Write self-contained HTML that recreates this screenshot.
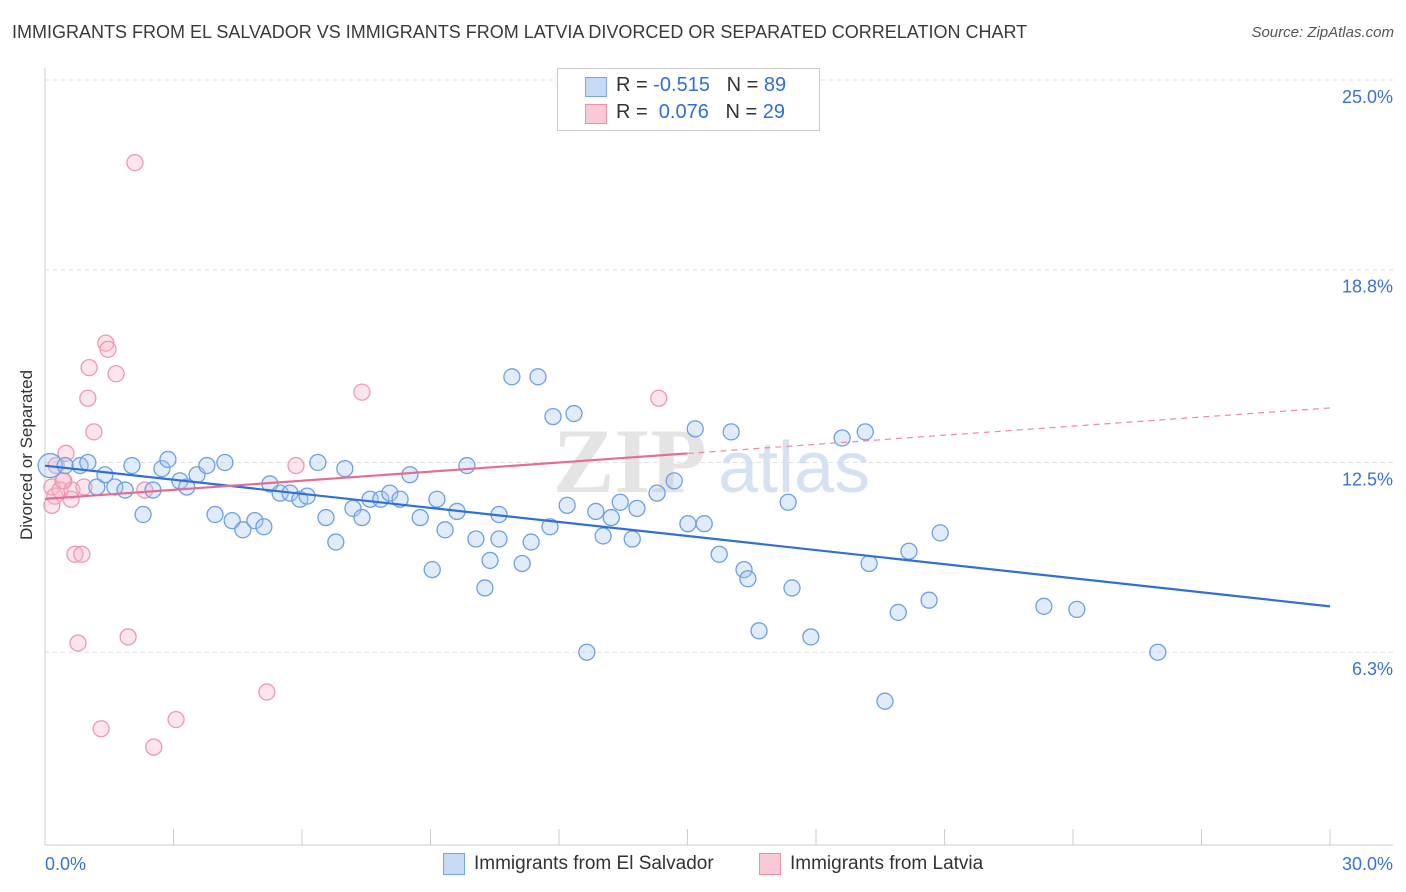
<!DOCTYPE html>
<html><head><meta charset="utf-8">
<style>
body{margin:0;background:#fff;font-family:"Liberation Sans",sans-serif;}
#wrap{position:relative;width:1406px;height:892px;overflow:hidden;}
.t{position:absolute;white-space:nowrap;}
</style></head>
<body>
<div id="wrap">
<div class="t" style="left:12px;top:22px;font-size:18px;color:#3a3a3a;">IMMIGRANTS FROM EL SALVADOR VS IMMIGRANTS FROM LATVIA DIVORCED OR SEPARATED CORRELATION CHART</div>
<div class="t" style="right:12px;top:24px;font-size:15px;color:#555;font-style:italic;">Source: ZipAtlas.com</div>
<div class="t" style="left:-58px;top:445px;font-size:17px;color:#333;transform:rotate(-90deg);">Divorced or Separated</div>
<svg id="svg" width="1406" height="892" style="position:absolute;left:0;top:0"></svg>
<div class="t" style="left:557px;top:68px;width:261px;height:61px;border:1px solid #ccc;background:#fff;font-size:20px;color:#333;">
 <div style="position:absolute;left:27px;top:8px;width:20px;height:18px;background:#c6d9f5;border:1px solid #7aa6e6;"></div>
 <div style="position:absolute;left:58px;top:5px;">R = <span style="color:#2f6fd6">-0.515</span>&nbsp;&nbsp;&nbsp;N = <span style="color:#2f6fd6">89</span></div>
 <div style="position:absolute;left:27px;top:35px;width:20px;height:18px;background:#f9c9d6;border:1px solid #ec91ab;"></div>
 <div style="position:absolute;left:58px;top:32px;">R = &nbsp;<span style="color:#2f6fd6">0.076</span>&nbsp;&nbsp;&nbsp;N = <span style="color:#2f6fd6">29</span></div>
</div>
<div class="t" style="left:443px;top:853px;width:20px;height:20px;background:#c6d9f5;border:1px solid #7aa6e6;"></div>
<div class="t" style="left:474px;top:853px;font-size:19px;color:#333;">Immigrants from El Salvador</div>
<div class="t" style="left:759px;top:853px;width:20px;height:20px;background:#f9c9d6;border:1px solid #ec91ab;"></div>
<div class="t" style="left:790px;top:853px;font-size:19px;color:#333;">Immigrants from Latvia</div>
</div>
<script>
const yTicks=[25.0,18.8,12.5,6.3];
const yTickLabels=["25.0%","18.8%","12.5%","6.3%"];
const xTickLabels=["0.0%","30.0%"];
const blueX=[0.12,0.47,0.82,1.0,1.21,1.4,1.63,1.87,2.03,2.29,2.52,2.73,2.87,3.15,3.31,3.55,3.78,3.97,4.2,4.37,4.62,4.9,5.11,5.25,5.49,5.72,5.95,6.12,6.37,6.56,6.79,7.0,7.19,7.4,7.59,7.84,8.05,8.29,8.52,8.76,9.04,9.15,9.34,9.62,9.85,10.06,10.27,10.39,10.6,10.6,10.9,11.14,11.35,11.51,11.79,11.86,12.19,12.35,12.65,12.86,13.03,13.22,13.43,13.71,13.82,14.29,14.69,15.01,15.18,15.39,15.74,16.02,16.32,16.41,16.67,17.35,17.44,17.88,18.61,19.15,19.24,19.61,19.92,20.17,20.64,20.9,23.32,24.09,25.98];
const blueY=[12.4,12.4,12.4,12.5,11.7,12.1,11.7,11.6,12.4,10.8,11.6,12.3,12.6,11.9,11.7,12.1,12.4,10.8,12.5,10.6,10.3,10.6,10.4,11.8,11.5,11.5,11.3,11.4,12.5,10.7,9.9,12.3,11.0,10.7,11.3,11.3,11.5,11.3,12.1,10.7,9.0,11.3,10.3,10.9,12.4,10.0,8.4,9.3,10.8,10.0,15.3,9.2,9.9,15.3,10.4,14.0,11.1,14.1,6.3,10.9,10.1,10.7,11.2,10.0,11.0,11.5,11.9,10.5,13.6,10.5,9.5,13.5,9.0,8.7,7.0,11.2,8.4,6.8,13.3,13.5,9.2,4.7,7.6,9.6,8.0,10.2,7.8,7.7,6.3];
const pinkX=[2.1,1.42,1.47,1.03,1.66,1.0,7.4,14.33,1.14,0.49,5.86,0.26,0.44,0.16,0.23,0.35,0.63,0.91,0.42,0.61,0.16,2.33,0.7,0.86,0.77,1.94,5.18,1.31,3.06,2.54];
const pinkY=[22.3,16.4,16.2,15.6,15.4,14.6,14.8,14.6,13.5,12.8,12.4,12.4,11.9,11.7,11.4,11.6,11.6,11.7,11.9,11.3,11.1,11.6,9.5,9.5,6.6,6.8,5.0,3.8,4.1,3.2];
const X0=45,X1=1330,Y0=845,PY=30.6;
const sx=v=>X0+(X1-X0)*v/30, sy=v=>Y0-v*PY;
const svg=document.getElementById('svg');const NS='http://www.w3.org/2000/svg';
function mk(tag,at,name){const e=document.createElementNS(NS,tag);for(const k in at)e.setAttribute(k,at[k]);


svg.appendChild(e);return e;}
mk('line',{x1:X0,x2:1393,y1:80,y2:80,stroke:'#ddd','stroke-dasharray':'4,4'},'gridline-top');
yTicks.forEach((v,i)=>{
 mk('line',{x1:X0,x2:1393,y1:sy(v),y2:sy(v),stroke:'#ddd','stroke-dasharray':'4,4'},'gridline');
 const t=mk('text',{x:1393,y:sy(v)+23,'text-anchor':'end','font-size':18,fill:'#3a72d3','font-family':'Liberation Sans'},'y-tick-label');t.textContent=yTickLabels[i];
});
mk('line',{x1:X0,x2:X0,y1:68,y2:Y0,stroke:'#ccc'},'y-axis-line');
mk('line',{x1:X0,x2:1393,y1:Y0,y2:Y0,stroke:'#ccc'},'x-axis-line');
for(let i=0;i<=10;i++){mk('line',{x1:sx(i*3),x2:sx(i*3),y1:829,y2:Y0,stroke:'#ccc'},'x-tick');}
let t=mk('text',{x:45,y:870,'font-size':18,fill:'#3a72d3','font-family':'Liberation Sans'},'x-tick-label-min');t.textContent=xTickLabels[0];
t=mk('text',{x:1393,y:870,'text-anchor':'end','font-size':18,fill:'#3a72d3','font-family':'Liberation Sans'},'x-tick-label-max');t.textContent=xTickLabels[1];
t=mk('text',{x:553,y:492,'font-size':92,fill:'#e4e4e4','font-family':'Liberation Serif','font-weight':'bold'},'watermark-zip');t.textContent='ZIP';
t=mk('text',{x:718,y:492,'font-size':72,fill:'#d6e2f4','font-family':'Liberation Sans'},'watermark-atlas');t.textContent='atlas';
function fit(xs,ys){const n=xs.length;let mx=0,my=0;for(let i=0;i<n;i++){mx+=xs[i];my+=ys[i];}mx/=n;my/=n;let a=0,b=0;for(let i=0;i<n;i++){a+=(xs[i]-mx)*(ys[i]-my);b+=(xs[i]-mx)**2;}const s=a/b;return x=>my+s*(x-mx);}
pinkX.forEach((x,i)=>mk('circle',{cx:sx(x),cy:sy(pinkY[i]),r:8,fill:'rgba(246,180,200,0.35)',stroke:'#ee98b2','stroke-width':1.3},'pink-point'));
blueX.forEach((x,i)=>mk('circle',{cx:sx(x),cy:sy(blueY[i]),r:(i==0?12:8),fill:'rgba(170,200,240,0.35)',stroke:'#6e9fe2','stroke-width':1.3},'blue-point'));
const fb=fit(blueX,blueY),fp=fit(pinkX,pinkY);
mk('line',{x1:sx(0),y1:sy(fb(0)),x2:sx(30),y2:sy(fb(30)),stroke:'#2f6fd6','stroke-width':2.2},'blue-trend-line');
mk('line',{x1:sx(0),y1:sy(fp(0)),x2:sx(15),y2:sy(fp(15)),stroke:'#e56d93','stroke-width':2.2},'pink-trend-line');
mk('line',{x1:sx(15),y1:sy(fp(15)),x2:sx(30),y2:sy(fp(30)),stroke:'#e88aa8','stroke-width':1.2,'stroke-dasharray':'6,5'},'pink-trend-extension');
</script>
</body></html>
